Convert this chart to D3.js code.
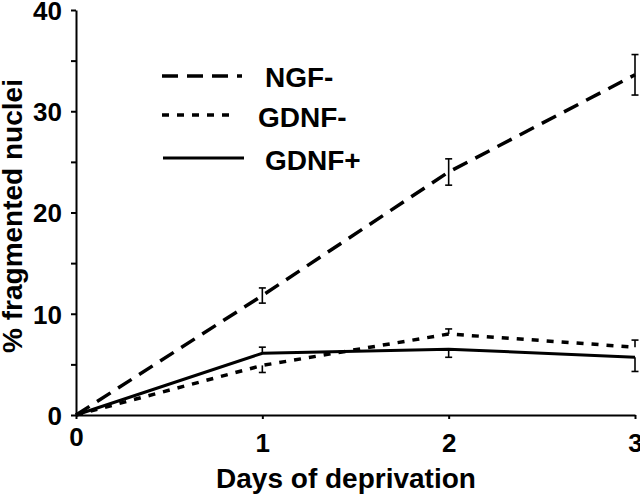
<!DOCTYPE html>
<html>
<head>
<meta charset="utf-8">
<script src="https://cdn.jsdelivr.net/npm/d3@7"></script>
<style>
html,body{margin:0;padding:0;background:#fff;}
svg{display:block;}
text{font-family:"Liberation Sans",Arial,Helvetica,sans-serif;font-weight:bold;fill:#000;}
</style>
</head>
<body>
<svg id="chart" width="640" height="498"></svg>
<script>
// ---- data ----
const days = [0, 1, 2, 3];
const xTickLabels = ["0", "1", "2", "3"];
const yTickValues = [0, 5, 10, 15, 20, 25, 30, 35, 40];
const yTickLabels = ["0", "", "10", "", "20", "", "30", "", "40"];

const seriesNames = ["NGF-", "GDNF-", "GDNF+"];
const ngfMinus = [0, 11.8, 24.0, 33.6];
const ngfMinusErrUp = [0, 0.75, 1.3, 2.0];
const ngfMinusErrDown = [0, 0.75, 1.3, 2.0];
const gdnfMinus = [0, 4.9, 8.0, 6.7];
const gdnfMinusErrUp = [0, 0, 0.5, 0.7];
const gdnfMinusErrDown = [0, 0.7, 0, 0];
const gdnfPlus = [0, 6.1, 6.5, 5.7];
const gdnfPlusErrUp = [0, 0.6, 0, 0];
const gdnfPlusErrDown = [0, 0, 0.8, 1.4];

const series = [
  {name: seriesNames[0], values: ngfMinus, up: ngfMinusErrUp, down: ngfMinusErrDown, dash: "16,9", width: 3.5},
  {name: seriesNames[1], values: gdnfMinus, up: gdnfMinusErrUp, down: gdnfMinusErrDown, dash: "7,8", width: 3.5},
  {name: seriesNames[2], values: gdnfPlus, up: gdnfPlusErrUp, down: gdnfPlusErrDown, dash: null, width: 3}
];

// ---- chart ----
const svg = d3.select("#chart");
const x = d3.scaleLinear().domain([0, 3]).range([76, 635]);
const y = d3.scaleLinear().domain([0, 40]).range([415, 10]);

// y axis
const yAxis = svg.append("g").attr("transform", `translate(${x(0)},0)`)
  .call(d3.axisLeft(y).tickValues(yTickValues).tickSize(5).tickSizeOuter(0).tickPadding(9)
    .tickFormat((d, i) => yTickLabels[i]));
yAxis.select(".domain").attr("stroke", "#000").attr("stroke-width", 2);
yAxis.selectAll(".tick line").attr("stroke", "#000").attr("stroke-width", 2);
yAxis.selectAll(".tick text").style("font-size", "26px").attr("dy", "0.36em");

// x axis
const xAxis = svg.append("g").attr("transform", `translate(0,${y(0)})`)
  .call(d3.axisBottom(x).tickValues(days).tickSize(4).tickSizeOuter(0).tickPadding(15)
    .tickFormat((d, i) => xTickLabels[i]));
xAxis.select(".domain").attr("stroke", "#000").attr("stroke-width", 2.2);
xAxis.selectAll(".tick line").attr("stroke", "#000").attr("stroke-width", 2);
xAxis.selectAll(".tick text").style("font-size", "26px")
  .attr("y", (d) => d === 0 ? 13 : 19);

// axis titles
svg.append("text").attr("x", 346).attr("y", 488).attr("text-anchor", "middle")
  .style("font-size", "28px").text("Days of deprivation");
svg.append("text").attr("transform", "translate(22,216) rotate(-90)").attr("text-anchor", "middle")
  .style("font-size", "28px").text("% fragmented nuclei");

// lines
const line = d3.line().x((d, i) => x(days[i])).y(d => y(d));
series.forEach(s => {
  svg.append("path").datum(s.values).attr("d", line)
    .attr("fill", "none").attr("stroke", "#000").attr("stroke-width", s.width)
    .attr("stroke-dasharray", s.dash);
  // error bars
  const g = svg.append("g").attr("stroke", "#000").attr("stroke-width", 1.6);
  days.forEach((d, i) => {
    if (s.up[i] <= 0 && s.down[i] <= 0) return;
    const cx = x(d);
    const y1 = y(s.values[i] + s.up[i]);
    const y2 = y(s.values[i] - s.down[i]);
    g.append("line").attr("x1", cx).attr("x2", cx).attr("y1", y1).attr("y2", y2);
    if (s.up[i] > 0) g.append("line").attr("x1", cx - 3.5).attr("x2", cx + 3.5).attr("y1", y1).attr("y2", y1);
    if (s.down[i] > 0) g.append("line").attr("x1", cx - 3.5).attr("x2", cx + 3.5).attr("y1", y2).attr("y2", y2);
  });
});

// legend
const legendRows = [
  {x1: 162, x2: 242, ly: 76, tx: 265, ty: 87},
  {x1: 162, x2: 233, ly: 115, tx: 258, ty: 127},
  {x1: 163, x2: 244, ly: 158, tx: 265, ty: 170}
];
series.forEach((s, i) => {
  const r = legendRows[i];
  svg.append("line").attr("x1", r.x1).attr("x2", r.x2).attr("y1", r.ly).attr("y2", r.ly)
    .attr("stroke", "#000").attr("stroke-width", s.width).attr("stroke-dasharray", s.dash);
  svg.append("text").attr("x", r.tx).attr("y", r.ty).style("font-size", "28px").text(s.name);
});
</script>
</body>
</html>
